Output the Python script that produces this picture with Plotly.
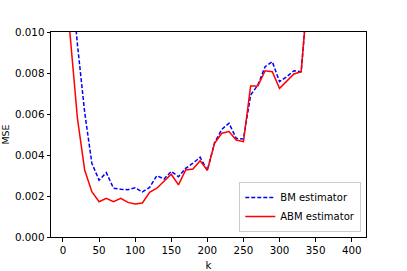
import plotly.graph_objects as go

k = [5, 10, 20, 30, 40, 50, 60, 70, 80, 90, 100, 110, 120, 130, 140, 150, 160, 170,
     180, 190, 200, 210, 220, 230, 240, 250, 260, 270, 280, 290, 300, 310, 320,
     330, 340, 350, 360, 370, 380, 390, 400]

bm = [0.0165, 0.0132, 0.0094, 0.0061, 0.0036, 0.00277, 0.00314, 0.00238, 0.00233,
      0.00231, 0.00240, 0.00220, 0.00242, 0.00299, 0.00283, 0.00320, 0.00294,
      0.00335, 0.00360, 0.00389, 0.00325, 0.00460, 0.00525, 0.00555, 0.00481,
      0.00478, 0.00693, 0.00741, 0.00831, 0.00855, 0.00758, 0.00782, 0.00811,
      0.00806, 0.0123, 0.0140, 0.0160, 0.0180, 0.0200, 0.0220, 0.0240]

abm = [0.0118, 0.0097, 0.0058, 0.00327, 0.00221, 0.00172, 0.00189, 0.00172, 0.00189,
       0.00169, 0.00161, 0.00166, 0.00218, 0.00238, 0.00270, 0.00306, 0.00254,
       0.00327, 0.00332, 0.00372, 0.00325, 0.00457, 0.00506, 0.00514, 0.00473,
       0.00465, 0.00737, 0.00737, 0.00811, 0.00806, 0.00725, 0.00758, 0.00795,
       0.00806, 0.0123, 0.0140, 0.0160, 0.0180, 0.0200, 0.0220, 0.0240]

x_ticks = [0, 50, 100, 150, 200, 250, 300, 350, 400]
y_ticks = [0.000, 0.002, 0.004, 0.006, 0.008, 0.010]

fig = go.Figure()
fig.add_trace(go.Scatter(x=k, y=bm, mode="lines", name="BM estimator",
                         line=dict(color="#0000ff", width=1.5, dash="4px,2px")))
fig.add_trace(go.Scatter(x=k, y=abm, mode="lines", name="ABM estimator",
                         line=dict(color="#ff0000", width=1.5)))

font = dict(family="DejaVu Sans", size=10.3, color="#000000")
fig.update_layout(
    width=407, height=271,
    margin=dict(l=51, r=41, t=32, b=34, autoexpand=False),
    paper_bgcolor="white", plot_bgcolor="white",
    font=font,
    showlegend=True,
    legend=dict(x=0.985, y=0.025, xanchor="right", yanchor="bottom",
                bgcolor="rgba(255,255,255,0.8)", bordercolor="#cccccc", borderwidth=1,
                font=dict(family="DejaVu Sans", size=10), itemwidth=30,
                tracegroupgap=0),
)
fig.update_xaxes(range=[-16.6, 419.8], tickvals=x_ticks, ticktext=[str(v) for v in x_ticks],
                 showgrid=False, zeroline=False, showline=True, mirror=True,
                 linecolor="#000000", linewidth=1, ticks="outside", ticklen=3.5,
                 tickcolor="#000000", tickwidth=1, automargin=False,
                 title=dict(text="k", font=font))
fig.update_yaxes(range=[0, 0.010], tickvals=y_ticks, ticktext=[f"{v:.3f}" for v in y_ticks],
                 showgrid=False, zeroline=False, showline=True, mirror=True,
                 linecolor="#000000", linewidth=1, ticks="outside", ticklen=3.5,
                 tickcolor="#000000", tickwidth=1, automargin=False,
                 title=dict(text="MSE", font=dict(family="DejaVu Sans", size=9.5, color="#000000")))

fig.write_html("out.html", config={"displayModeBar": False},
               post_script="document.body.style.margin='0';document.body.style.overflow='hidden';")
